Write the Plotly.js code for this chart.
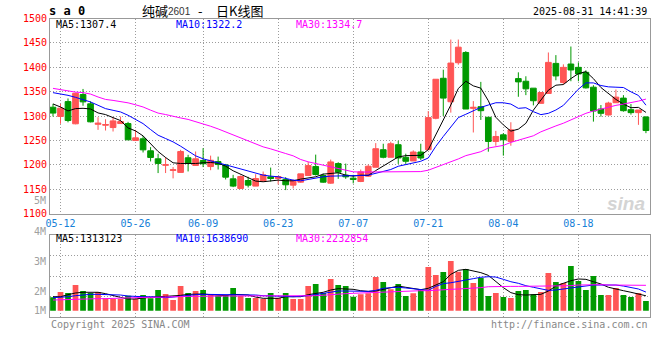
<!DOCTYPE html>
<html><head><meta charset="utf-8">
<script src="https://cdn.plot.ly/plotly-3.0.1.min.js"></script>
<style>html,body{margin:0;padding:0;background:#fff;}#chart{width:660px;height:360px;}</style>
</head><body><div id="chart"></div>
<script>
// ---- data ----
const dates = ['05-09','05-12','05-13','05-14','05-15','05-16','05-19','05-20','05-21','05-22','05-23','05-26','05-27','05-28','05-29','05-30',
 '06-03','06-04','06-05','06-06','06-09','06-10','06-11','06-12','06-13','06-16','06-17','06-18','06-19','06-20','06-23','06-24','06-25','06-26','06-27','06-30',
 '07-01','07-02','07-03','07-04','07-07','07-08','07-09','07-10','07-11','07-14','07-15','07-16','07-17','07-18','07-21','07-22','07-23','07-24','07-25','07-28','07-29','07-30','07-31',
 '08-01','08-04','08-05','08-06','08-07','08-08','08-11','08-12','08-13','08-14','08-15','08-18','08-19','08-20','08-21','08-22','08-25','08-26','08-27','08-28','08-29'];
const openP = [1318,1299,1329.5,1284,1344,1325,1283,1281,1276.3,1284.5,1284.5,1249.7,1253.2,1228.6,1212.2,1199,1188.4,1184.3,1214.3,1198.6,
 1208.8,1196.3,1206.5,1199.7,1171.1,1151.4,1167.7,1156.2,1166.4,1175.2,1171.8,1169.8,1158.2,1164.3,1177.9,1196.3,1177.9,1162.3,1202.4,1178.6,
 1172.5,1165.7,1176.6,1194.9,1230.9,1215.3,1241.1,1215.3,1207.8,1226.1,1230.9,1295.3,1377.4,1329.2,1409.3,1430.3,1315.7,1319.1,1297.4,1247.8,
 1261.4,1247.8,1376.7,1371.3,1357.1,1325.9,1346.2,1407.9,1368.6,1406.6,1399.8,1389.6,1359.1,1314.3,1302.1,1327.2,1336.7,1313,1306.9,1298];
const highP = [1325,1325,1336,1348,1355.5,1330,1297.5,1293.4,1297.5,1298.9,1288,1271.6,1259.3,1236.1,1222.5,1215.6,1195.2,1230.6,1220.4,1227.2,
 1234,1218.7,1216.7,1201.7,1179.3,1177.9,1175.2,1180.6,1186.1,1194.2,1176.6,1174.5,1169.8,1181.3,1205.8,1220.8,1182,1210.6,1205.1,1202.4,
 1179.3,1190.2,1200.3,1244.4,1243.1,1247.2,1249.2,1222.7,1229.5,1243.1,1310.2,1375.4,1395,1456.8,1456.8,1433,1330.6,1370,1297.4,1269.5,
 1264.8,1287.2,1389.6,1381.5,1357.1,1348.2,1430.3,1424.9,1405.9,1442.5,1410,1393.7,1363.2,1322.5,1329.2,1354.3,1342.8,1324.5,1312.3,1299.4];
const lowP = [1299,1284,1287,1283,1321,1287,1271.6,1270.2,1268.2,1284,1251,1249.7,1225.2,1206.8,1182.9,1183,1172,1184,1186.3,1198,
 1195.2,1188.8,1190.2,1169.8,1154.1,1150,1153.4,1156,1165.7,1165.7,1159.6,1148,1151.4,1163,1177.9,1177.9,1163,1160.9,1171.1,1171.1,
 1161.7,1164.4,1175.3,1194.9,1213.2,1215.3,1201.7,1201.7,1207.8,1209.8,1230.9,1293.3,1300.1,1306.9,1405.2,1314.3,1266.2,1291.9,1226.8,1239,
 1218.7,1239,1339.4,1342.8,1321.8,1325.9,1346.2,1373.3,1365.2,1371.3,1371.3,1356.4,1288.5,1298.7,1300.8,1327.2,1308.9,1302.8,1281.8,1264.8];
const closeP = [1306,1316,1290.7,1346.6,1329,1288,1285.2,1282.5,1290,1288.6,1251.1,1255.2,1230.6,1215,1202.7,1200,1189.7,1227.2,1203.4,1212.2,
 1202,1209.2,1200.4,1174.5,1156.2,1175.9,1158.2,1171.8,1179.3,1171.8,1175.9,1158.9,1167.7,1181.3,1198.3,1180,1164.3,1205.8,1184.7,1175.2,
 1169.8,1185.4,1196.9,1232.9,1215.3,1243.1,1213.9,1207.1,1226.1,1213.9,1296.7,1375.4,1336.7,1408.6,1441.2,1314.3,1317.7,1310.9,1247.8,1258,
 1251.2,1271.6,1370,1355.7,1331.3,1348.2,1410,1382.2,1399.8,1394.4,1386.2,1357.7,1310.2,1305.5,1326.5,1338.7,1310.9,1306.9,1312.3,1270.2];
const ma5 = [1324.7,1318.5,1310.4,1315.1,1315.8,1314.4,1306.3,1302.9,1296.7,1290.6,1275.6,1269.4,1259.2,1242.2,1227.2,1214.9,1204,1202.6,1201.9,1202.6,
 1204,1204.6,1203.3,1197.1,1187.6,1180.1,1173.9,1166.5,1165.1,1167.1,1168.5,1167.1,1167.1,1170.5,1172.6,1175.3,1180.8,1182.1,1183.5,1178.7,
 1176.7,1178.6,1178,1188.1,1197,1207.1,1216,1218.7,1219.3,1219.3,1230.9,1261.4,1293.3,1322.5,1356.4,1371.3,1361.8,1357.1,1331.3,1297.4,
 1281.8,1269,1273,1285,1312,1332.6,1353,1363.2,1364.5,1376.7,1386.9,1391,1376.7,1358.4,1346.2,1334,1324.5,1317,1317.7,1307.4];
const ma10 = [1347.9,1345.8,1342.4,1338.3,1333.5,1328.8,1322,1315.1,1311.7,1308.3,1301.5,1292.6,1284.4,1272.2,1260.6,1253.8,1246.9,1238.1,1228.5,1218.3,
 1212.1,1207.4,1204,1199.9,1195.8,1191.7,1187,1182.1,1178.7,1176.7,1175.3,1171.9,1168.5,1167.1,1169.9,1172.6,1175.3,1176.7,1177.4,1177.4,
 1178.1,1178,1178.6,1182,1185.4,1190.2,1196.9,1200.3,1203.7,1207.1,1213.9,1237.7,1258,1278.4,1296.7,1303.5,1310.9,1317.7,1322.5,1327.2,
 1327.2,1324.5,1315.7,1317,1308.9,1302.8,1305.5,1312.3,1321.8,1339.4,1355,1367.9,1367.9,1362.5,1359.8,1359.1,1358.4,1349.6,1342.1,1322.2];
const ma30 = [1356.7,1354,1351,1349,1348,1345,1339,1334,1332,1330,1327,1323,1318.5,1312,1306,1303,1299,1296,1293,1288.5,
 1284.5,1279,1273.5,1267.4,1260.6,1254.4,1247.6,1242.8,1236.7,1232.6,1228.5,1223,1218.3,1210.8,1206,1202.6,1199.2,1195.8,1191,1187.6,
 1185.5,1185,1185,1185,1185.5,1186,1186,1186,1186,1186,1188.8,1194.2,1200.3,1205.1,1211.9,1218.7,1222.7,1226.8,1234.3,1237.7,
 1239.7,1245.8,1249.9,1255.3,1259.4,1267.5,1274.3,1279.7,1285.2,1291.9,1300.1,1305.5,1310.2,1314.3,1319.1,1321.8,1324.5,1327.2,1330.6,1334.7];
// volume in millions of lots
const volM = [1.18,1.65,1.56,2.26,1.73,1.56,1.65,1.09,1.03,1.03,1.32,1.03,1.38,1.09,1.82,1.47,0.94,2.17,1.56,1.73,
 1.82,1.38,1.32,1.38,2.0,1.32,1.12,1.12,1.03,1.56,1.12,1.56,1.03,1.03,2.17,2.35,1.56,2.79,2.26,2.17,
 1.23,1.44,1.53,2.97,2.53,1.88,2.35,1.29,1.53,1.82,3.85,3.14,3.41,4.37,3.43,3.67,2.44,2.88,1.29,1.56,
 1.21,1.12,1.73,1.82,1.44,1.65,3.32,2.53,2.44,3.93,2.61,1.82,3.05,1.38,1.38,2.0,1.38,1.21,1.56,0.85];
const vma5 = [1.23,1.23,1.41,1.56,1.62,1.62,1.62,1.50,1.32,1.17,1.03,1.03,1.12,1.20,1.23,1.26,1.29,1.35,1.44,1.47,
 1.47,1.41,1.35,1.32,1.44,1.41,1.38,1.20,1.09,1.09,1.09,1.23,1.23,1.23,1.41,1.53,1.62,1.82,1.94,1.91,
 1.88,1.76,1.70,1.73,1.88,2.06,2.17,2.06,1.94,1.85,1.97,2.23,2.55,3.20,3.55,3.64,3.52,3.35,3.11,2.55,
 2.03,1.59,1.41,1.38,1.38,1.44,1.73,2.17,2.41,2.64,2.79,2.76,2.55,2.35,2.06,1.88,1.76,1.62,1.44,1.313];
const vma10 = [1.15,1.17,1.23,1.32,1.41,1.44,1.44,1.44,1.41,1.38,1.29,1.23,1.23,1.23,1.20,1.15,1.20,1.29,1.35,1.41,
 1.44,1.44,1.44,1.44,1.44,1.44,1.41,1.38,1.32,1.32,1.29,1.26,1.23,1.26,1.32,1.42,1.52,1.66,1.73,1.73,
 1.70,1.67,1.70,1.79,1.97,2.03,2.06,2.00,1.94,1.82,1.79,2.14,2.38,2.46,2.55,2.70,2.82,2.94,2.99,2.96,
 2.76,2.55,2.41,2.20,2.06,1.94,1.79,1.82,1.88,2.00,2.09,2.20,2.26,2.26,2.26,2.26,2.17,2.06,1.91,1.639];
const vma30 = [0.94,0.97,1.00,1.00,1.00,1.03,1.06,1.06,1.09,1.09,1.12,1.15,1.17,1.17,1.20,1.20,1.20,1.23,1.26,1.26,
 1.29,1.29,1.29,1.29,1.29,1.29,1.29,1.29,1.29,1.29,1.29,1.29,1.29,1.26,1.29,1.32,1.36,1.42,1.47,1.50,
 1.53,1.56,1.59,1.62,1.65,1.67,1.67,1.70,1.73,1.76,1.76,1.82,1.85,1.88,1.91,1.94,1.97,2.03,2.11,2.14,
 2.14,2.14,2.14,2.14,2.14,2.14,2.14,2.17,2.17,2.20,2.26,2.29,2.29,2.29,2.26,2.26,2.26,2.23,2.23,2.233];
const xTickLabels = ['05-12','05-26','06-09','06-23','07-07','07-21','08-04','08-18'];
const priceTicks = [1100,1150,1200,1250,1300,1350,1400,1450,1500];
const volAxisLabels = ['5M','4M','3M','2M','1M'];
const maTexts = ['MA5:1307.4','MA10:1322.2','MA30:1334.7'];
const volMaTexts = ['MA5:1313123','MA10:1638690','MA30:2232854'];
const titleParts = ['纯碱', '2601', '-', '日K线图'];

// ---- layout helpers ----
const W = 660, H = 360;
const px = x => x / W, py = y => 1 - y / H;
const idx = dates.map((d, i) => i);
const xTickIdx = xTickLabels.map(l => dates.indexOf(l));
const RED = '#ff5555', GREEN = '#009900';
const MONO = '"DejaVu Sans Mono", "Liberation Mono", monospace';
const CJK = '"Noto Sans CJK SC", sans-serif';
const GRID = '#9c9c9c', FRAME = '#999999';
const volRange = [-0.581, 6.688];
const volGrid = [1, 2, 3].map(k => volRange[0] + k * (volRange[1] - volRange[0]) / 4);
const lineColors = ['#000000', '#0000ff', '#ff00ff'];

const traces = [
  {type: 'candlestick', x: idx, open: openP, high: highP, low: lowP, close: closeP,
   xaxis: 'x', yaxis: 'y', whiskerwidth: 0, hoverinfo: 'skip',
   increasing: {line: {color: RED, width: 1}, fillcolor: RED},
   decreasing: {line: {color: GREEN, width: 1}, fillcolor: GREEN}},
  ...[ma5, ma10, ma30].map((m, k) => ({type: 'scatter', mode: 'lines', x: idx, y: m, xaxis: 'x', yaxis: 'y',
     line: {color: lineColors[k], width: 1}, hoverinfo: 'skip'})),
  {type: 'bar', x: idx, y: volM, xaxis: 'x2', yaxis: 'y2', width: 0.76,
   marker: {color: closeP.map((c, i) => c >= openP[i] ? RED : GREEN), line: {width: 0}}, hoverinfo: 'skip'},
  ...[vma5, vma10, vma30].map((m, k) => ({type: 'scatter', mode: 'lines', x: idx, y: m, xaxis: 'x2', yaxis: 'y2',
     line: {color: lineColors[k], width: 1}, hoverinfo: 'skip'}))
];

const ann = (text, x, y, opts = {}) => Object.assign({
  text, x: px(x), y: py(y), xref: 'paper', yref: 'paper', showarrow: false,
  xanchor: 'left', yanchor: 'middle', font: {family: MONO, size: 10, color: '#000'}
}, opts);

const annotations = [
  ann('<b>s a 0</b>', 47, 11, {font: {family: MONO, size: 12, color: '#000'}}),
  ann(titleParts[0], 140, 10, {font: {family: CJK, size: 13, color: '#000'}}),
  ann(titleParts[1], 166, 11, {font: {family: '"Liberation Sans", sans-serif', size: 10, color: '#333'}}),
  ann(titleParts[2], 200, 10, {xanchor: 'center', font: {family: CJK, size: 13, color: '#000'}}),
  ann(titleParts[3], 214, 10, {font: {family: CJK, size: 13, color: '#000'}}),
  ann('2025-08-31 14:41:39', 649, 12, {xanchor: 'right'}),
  ...maTexts.map((t, k) => ann(t, [54, 174, 294][k], 24.5, {font: {family: MONO, size: 10, color: lineColors[k]}})),
  ...volMaTexts.map((t, k) => ann(t, [54, 174, 294][k], 238.5, {font: {family: MONO, size: 10, color: lineColors[k]}})),
  ...volAxisLabels.map((t, k) => ann(t, 47.5, [200.5, 231, 261, 291, 310][k], {xanchor: 'right', font: {family: MONO, size: 10, color: '#a0a0a0'}})),
  ann('Copyright 2025 SINA.COM', 49, 324, {font: {family: MONO, size: 10, color: '#888'}}),
  ann('http://finance.sina.com.cn', 650, 324, {xanchor: 'right', font: {family: MONO, size: 10, color: '#888'}}),
  ann('<b><i>sina</i></b>', 626, 203, {xanchor: 'center', font: {family: '"Liberation Sans", sans-serif', size: 19, color: '#d4d4d4'}})
];

const axBase = {showgrid: true, gridcolor: GRID, griddash: '1px,2px', gridwidth: 1, zeroline: false,
  showline: true, linecolor: FRAME, linewidth: 1, mirror: true, ticks: '', fixedrange: true};

const layout = {
  width: W, height: H, margin: {l: 0, r: 0, t: 0, b: 0},
  paper_bgcolor: '#fff', plot_bgcolor: '#fff', showlegend: false,
  font: {family: MONO, size: 10, color: '#000'},
  boxgap: 0.24, boxgroupgap: 0,
  xaxis: Object.assign({}, axBase, {domain: [px(50), px(650)], range: [-0.4, 79.54], anchor: 'y',
    tickmode: 'array', tickvals: xTickIdx, ticktext: xTickLabels,
    tickfont: {family: MONO, size: 10, color: '#1580d8'}, rangeslider: {visible: false}}),
  yaxis: Object.assign({}, axBase, {domain: [py(213.5), py(18.5)], range: [1100, 1500], anchor: 'x',
    tickmode: 'array', tickvals: priceTicks, tickfont: {family: MONO, size: 10, color: '#ff0000'}}),
  xaxis2: Object.assign({}, axBase, {domain: [px(50), px(650)], matches: 'x', anchor: 'y2',
    tickmode: 'array', tickvals: xTickIdx, showticklabels: false}),
  yaxis2: Object.assign({}, axBase, {domain: [py(317.3), py(234.7)], range: volRange, anchor: 'x2',
    tickmode: 'array', tickvals: volGrid, showticklabels: false}),
  annotations
};

Plotly.newPlot('chart', traces, layout, {displayModeBar: false, staticPlot: true});
</script>
</body></html>
